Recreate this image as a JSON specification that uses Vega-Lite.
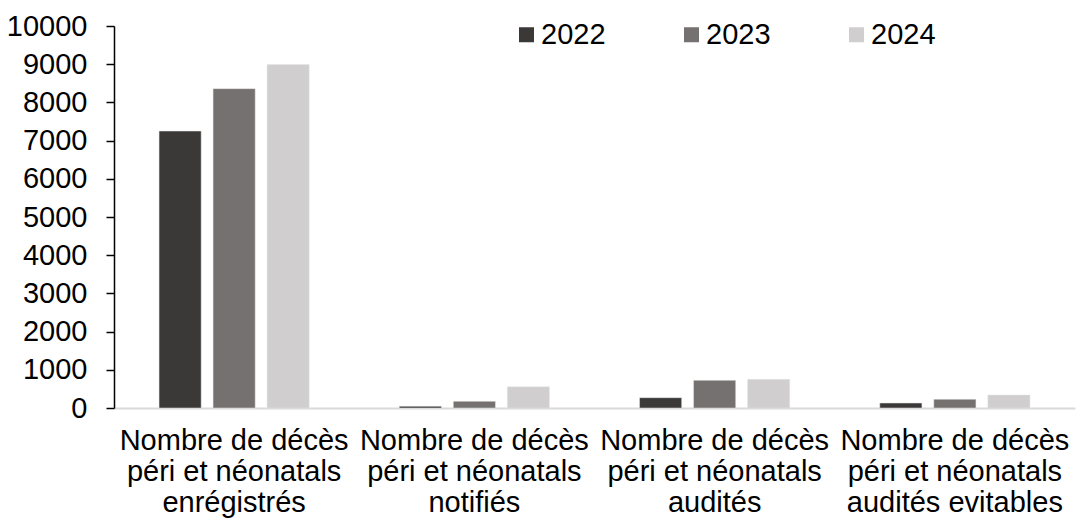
{
  "$schema": "https://vega.github.io/schema/vega-lite/v6.json",
  "width": 961,
  "height": 382,
  "autosize": "none",
  "padding": {"left": 114, "top": 26, "right": 6, "bottom": 113},
  "background": "white",
  "config": {
    "view": {"stroke": null},
    "font": "Liberation Sans",
    "text": {"font": "Liberation Sans"}
  },
  "data": {
    "values": [
      {"cat": "Nombre de décès\npéri et néonatals\nenrégistrés", "year": "2022", "value": 7250},
      {"cat": "Nombre de décès\npéri et néonatals\nenrégistrés", "year": "2023", "value": 8360},
      {"cat": "Nombre de décès\npéri et néonatals\nenrégistrés", "year": "2024", "value": 8990},
      {"cat": "Nombre de décès\npéri et néonatals\nnotifiés", "year": "2022", "value": 45},
      {"cat": "Nombre de décès\npéri et néonatals\nnotifiés", "year": "2023", "value": 175},
      {"cat": "Nombre de décès\npéri et néonatals\nnotifiés", "year": "2024", "value": 555},
      {"cat": "Nombre de décès\npéri et néonatals\naudités", "year": "2022", "value": 270},
      {"cat": "Nombre de décès\npéri et néonatals\naudités", "year": "2023", "value": 725},
      {"cat": "Nombre de décès\npéri et néonatals\naudités", "year": "2024", "value": 750},
      {"cat": "Nombre de décès\npéri et néonatals\naudités evitables", "year": "2022", "value": 130},
      {"cat": "Nombre de décès\npéri et néonatals\naudités evitables", "year": "2023", "value": 228},
      {"cat": "Nombre de décès\npéri et néonatals\naudités evitables", "year": "2024", "value": 340}
    ]
  },
  "mark": {"type": "bar", "stroke": "#e6e6e6", "strokeWidth": 0.5},
  "encoding": {
    "x": {
      "field": "cat",
      "type": "nominal",
      "sort": null,
      "scale": {"paddingInner": 0.375, "paddingOuter": 0.1875},
      "axis": {
        "title": null,
        "labelAngle": 0,
        "labelExpr": "split(datum.label, '\\n')",
        "labelFontSize": 29,
        "labelLineHeight": 31,
        "labelColor": "#000000",
        "labelPadding": 18,
        "labelBaseline": "top",
        "ticks": false,
        "domainColor": "#d9d9d9",
        "domainWidth": 2,
        "labelLimit": 0
      }
    },
    "xOffset": {
      "field": "year",
      "type": "nominal",
      "scale": {"paddingInner": 0.22, "paddingOuter": 0}
    },
    "y": {
      "field": "value",
      "type": "quantitative",
      "scale": {"domain": [0, 10000], "nice": false},
      "axis": {
        "title": null,
        "values": [0, 1000, 2000, 3000, 4000, 5000, 6000, 7000, 8000, 9000, 10000],
        "format": "d",
        "grid": false,
        "labelFontSize": 29,
        "labelColor": "#000000",
        "labelPadding": 19,
        "tickSize": 8,
        "tickColor": "#000000",
        "tickWidth": 1.5,
        "domainColor": "#000000",
        "domainWidth": 1.5
      }
    },
    "color": {
      "field": "year",
      "type": "nominal",
      "scale": {"domain": ["2022", "2023", "2024"], "range": ["#3b3838", "#767171", "#d0cece"]},
      "legend": {
        "title": null,
        "orient": "none",
        "direction": "horizontal",
        "legendX": 398,
        "legendY": -6,
        "symbolType": "square",
        "symbolSize": 225,
        "symbolStrokeWidth": 0,
        "labelFontSize": 29,
        "labelColor": "#000000",
        "labelOffset": 0,
        "columnPadding": 71
      }
    }
  }
}
